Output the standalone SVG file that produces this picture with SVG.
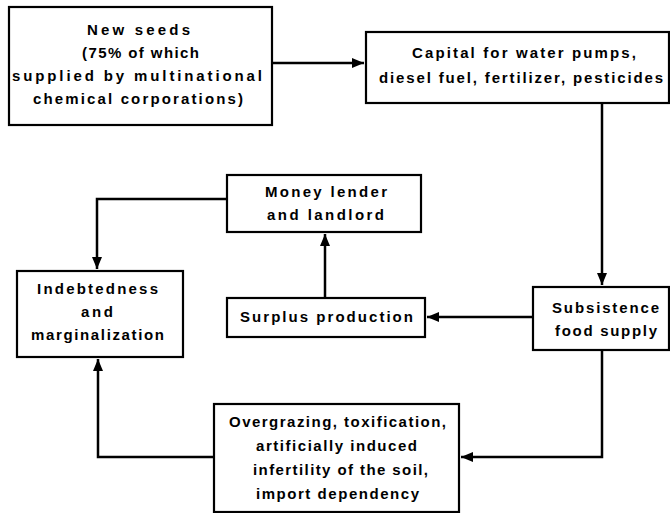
<svg xmlns="http://www.w3.org/2000/svg" width="670" height="513" viewBox="0 0 670 513">
<style>
.box{fill:#fff;stroke:#000;stroke-width:2.2}
.t{font-family:"Liberation Sans",Arial,sans-serif;font-weight:bold;font-size:15px;fill:#000;text-anchor:middle}
.c{fill:none;stroke:#000;stroke-width:2.5}
</style>
<defs>
<marker id="ah" markerUnits="userSpaceOnUse" markerWidth="13" markerHeight="11" refX="12" refY="5" orient="auto">
<path d="M0,0 L12,5 L0,10 z" fill="#000"/>
</marker>
</defs>
<g id="connectors">
<path class="c" d="M272,63 H364" marker-end="url(#ah)"/>
<path class="c" d="M602,103 V285" marker-end="url(#ah)"/>
<path class="c" d="M533,317 H427" marker-end="url(#ah)"/>
<path class="c" d="M325,298 V234" marker-end="url(#ah)"/>
<path class="c" d="M227,199 H97 V269" marker-end="url(#ah)"/>
<path class="c" d="M602,350 V457 H461" marker-end="url(#ah)"/>
<path class="c" d="M214,457 H98 V359" marker-end="url(#ah)"/>
</g>
<g id="new-seeds">
<rect class="box" x="9" y="7" width="263" height="118"/>
<text class="t" x="138.5" y="35" textLength="103" lengthAdjust="spacing">New seeds</text>
<text class="t" x="140.5" y="58" textLength="117" lengthAdjust="spacing">(75% of which</text>
<text class="t" x="137" y="81" textLength="250" lengthAdjust="spacing">supplied by multinational</text>
<text class="t" x="138" y="104" textLength="210" lengthAdjust="spacing">chemical corporations)</text>
</g>
<g id="capital">
<rect class="box" x="366" y="32" width="303" height="71"/>
<text class="t" x="524" y="58" textLength="224" lengthAdjust="spacing">Capital for water pumps,</text>
<text class="t" x="521" y="83" textLength="284" lengthAdjust="spacing">diesel fuel, fertilizer, pesticides</text>
</g>
<g id="money-lender">
<rect class="box" x="227" y="175" width="194" height="57"/>
<text class="t" x="326" y="197" textLength="122" lengthAdjust="spacing">Money lender</text>
<text class="t" x="325.5" y="220" textLength="117" lengthAdjust="spacing">and landlord</text>
</g>
<g id="indebtedness">
<rect class="box" x="17" y="271" width="166" height="86"/>
<text class="t" x="97.5" y="294" textLength="121" lengthAdjust="spacing">Indebtedness</text>
<text class="t" x="97" y="317" textLength="32" lengthAdjust="spacing">and</text>
<text class="t" x="97.5" y="340" textLength="133" lengthAdjust="spacing">marginalization</text>
</g>
<g id="surplus">
<rect class="box" x="227" y="298" width="198" height="39"/>
<text class="t" x="326.5" y="322" textLength="173" lengthAdjust="spacing">Surplus production</text>
</g>
<g id="subsistence">
<rect class="box" x="533" y="287" width="136" height="63"/>
<text class="t" x="605.5" y="313" textLength="107" lengthAdjust="spacing">Subsistence</text>
<text class="t" x="606" y="336" textLength="102" lengthAdjust="spacing">food supply</text>
</g>
<g id="overgrazing">
<rect class="box" x="214" y="404" width="245" height="108"/>
<text class="t" x="337.5" y="427" textLength="217" lengthAdjust="spacing">Overgrazing, toxification,</text>
<text class="t" x="336.5" y="451" textLength="161" lengthAdjust="spacing">artificially induced</text>
<text class="t" x="340.5" y="475" textLength="175" lengthAdjust="spacing">infertility of the soil,</text>
<text class="t" x="337.5" y="499" textLength="163" lengthAdjust="spacing">import dependency</text>
</g>
</svg>
